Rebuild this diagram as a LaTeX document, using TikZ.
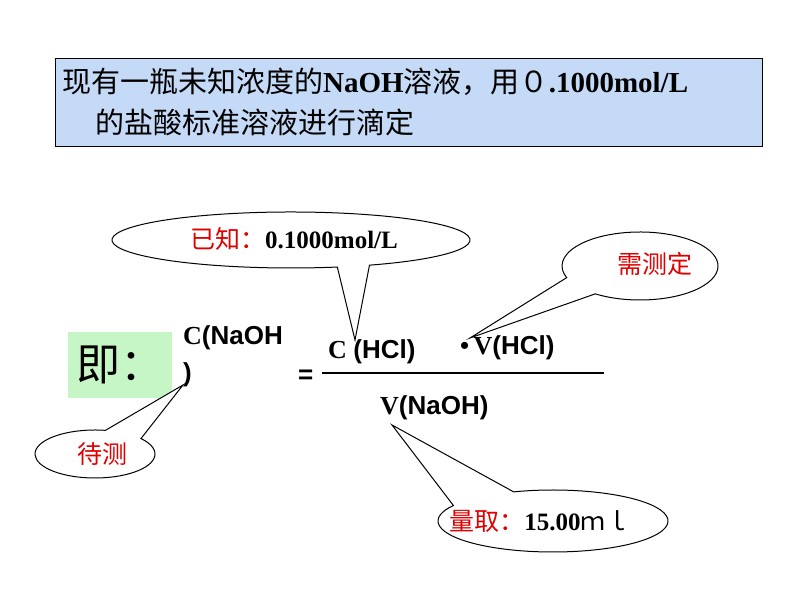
\documentclass[tikz,border=0pt]{standalone}
\usepackage{fontspec}
\setmainfont{Liberation Serif}
\setsansfont{Liberation Sans}
\newfontfamily\cjk{Noto Sans CJK SC}
\usetikzlibrary{positioning, calc}
\definecolor{titleblue}{HTML}{C4DAF6}
\definecolor{boxgreen}{HTML}{C6F5C6}
\definecolor{markred}{HTML}{E00000}
\tikzset{
  callout/.style={draw=black, fill=white, line width=1pt},
  calltext/.style={font=\fontsize{25}{28}\selectfont, inner sep=0pt},
  formula/.style={font=\fontsize{26}{28}\selectfont\bfseries, inner sep=0pt, anchor=west}
}
\begin{document}
\begin{tikzpicture}[x=1pt,y=1pt]
	\useasboundingbox (0,0) rectangle (794,596);
	% title
	\node[draw, fill=titleblue, line width=0.8pt, minimum width=707pt, minimum height=88pt, anchor=north west] (title) at (55,538) {};
	\node[anchor=west, inner sep=0pt, font=\fontsize{29}{32}\selectfont] (line1) at (62,514) {\cjk 现有一瓶未知浓度的\textrm{\bfseries NaOH}溶液，用０\textrm{\bfseries .1000mol/L}};
	\node[anchor=west, inner sep=0pt, font=\fontsize{29}{32}\selectfont] (line2) at (95,474) {\cjk 的盐酸标准溶液进行滴定};
	% formula
	\node[fill=boxgreen, minimum width=104pt, minimum height=66pt, anchor=north west, font=\fontsize{44}{46}\selectfont] (ji) at (68,264) {\cjk 即：};
	\node[formula] (cnaoh) at (183,258) {C\textsf{(NaOH}};
	\node[formula] (paren) at (183,221) {\textsf{)}};
	\node[formula] (eq) at (298,219) {\textsf{=}};
	\coordinate (barl) at (322,223);
	\coordinate (barr) at (604,223);
	\draw[line width=1.6pt] (barl) -- (barr);
	\node[formula] (chcl) at (328,244) {C \textsf{(HCl)}};
	\node[formula] (vhcl) at (460,248) {\textbullet\,V\textsf{(HCl)}};
	\node[formula] (vnaoh) at (380,188) {V\textsf{(NaOH)}};
	% callouts
	\coordinate (tipA) at (355,256);
	\draw[callout] ($(291,356)+(296:179 and 28)$) arc[start angle=296, end angle=645, x radius=179, y radius=28] -- (tipA) -- cycle;
	\node[calltext] (known) at (294,357) {\cjk\color{markred}已知：\color{black}\textrm{\bfseries 0.1000mol/L}};
	\coordinate (tipB) at (470,258);
	\draw[callout] ($(640,330)+(235:78 and 34)$) arc[start angle=235, end angle=560, x radius=78, y radius=34] -- (tipB) -- cycle;
	\node[calltext, text=markred] (measure) at (655,332) {\cjk 需测定};
	\coordinate (tipC) at (183,211);
	\draw[callout] ($(95,142)+(80:60 and 24)$) arc[start angle=80, end angle=400, x radius=60, y radius=24] -- (tipC) -- cycle;
	\node[calltext, text=markred] (unknown) at (102,142) {\cjk 待测};
	\coordinate (tipD) at (392,171);
	\draw[callout] ($(553,75)+(150:115 and 31)$) arc[start angle=150, end angle=470, x radius=115, y radius=31] -- (tipD) -- cycle;
	\node[calltext] (taken) at (540,75) {\cjk\color{markred}量取：\color{black}\textrm{\bfseries 15.00}ｍｌ};
\end{tikzpicture}
\end{document}
